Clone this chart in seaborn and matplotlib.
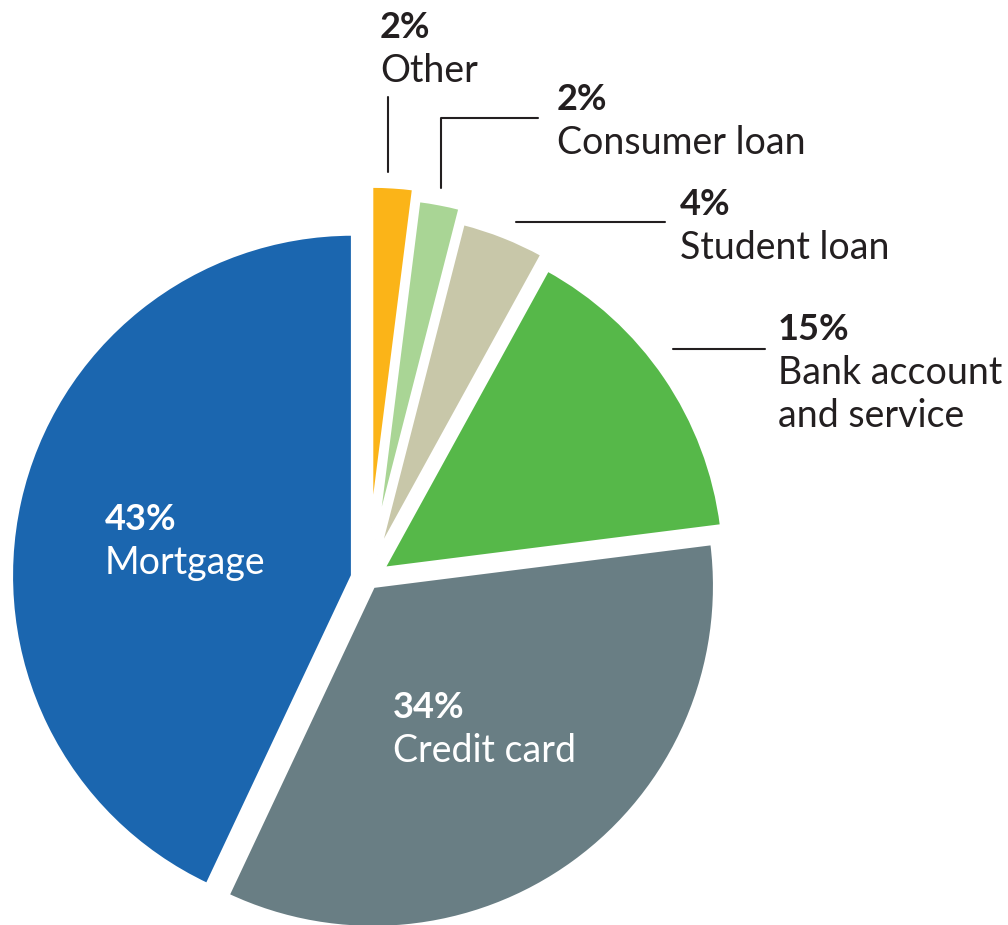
import matplotlib
matplotlib.use("Agg")
import matplotlib.pyplot as plt
import seaborn as sns
from matplotlib.lines import Line2D

sns.set_theme(style="white")
plt.rcParams['font.family'] = ['Lato', 'DejaVu Sans']

# complaint categories, clockwise from 12 o'clock
categories = ["Other", "Consumer loan", "Student loan", "Bank account\nand service",
              "Credit card", "Mortgage"]
shares = [2, 2, 4, 15, 34, 43]
colors = ["#FBB418", "#A9D595", "#C8C7A9", "#56B849", "#697E84", "#1B66AF"]
explode = [0.15, 0.118, 0.078, 0.052, 0.025, 0.045]

W, H = 1008, 925
fig = plt.figure(figsize=(W / 100, H / 100), dpi=100)
ax = fig.add_axes([0, 0, 1, 1])

R = 342.0          # radius in pixels
cx, cy = 368, 579  # pie centre in pixels
ax.pie(shares, colors=sns.color_palette(colors), startangle=90, counterclock=False,
       explode=explode, radius=1, center=(0, 0),
       wedgeprops=dict(edgecolor="white", linewidth=3))
ax.set_xlim(-cx / R, (W - cx) / R)
ax.set_ylim(-(H - cy) / R, cy / R)
ax.set_aspect("equal")
ax.axis("off")


def fx(x, y):
    return x / W, 1 - y / H


# label anchors (left, baseline of percent line) in pixels
label_pos = [(380, 38), (557, 110), (680, 215), (778, 340), (393, 718), (105, 530)]
text_col = ["#231F20"] * 4 + ["white", "white"]

for name, v, (x, y), c in zip(categories, shares, label_pos, text_col):
    fig.text(*fx(x, y), f"{v}%", fontsize=26, fontweight="bold", color=c,
             ha="left", va="baseline")
    for i, line in enumerate(name.split("\n")):
        fig.text(*fx(x, y + 44 + 43 * i), line, fontsize=27, color=c,
                 ha="left", va="baseline")

# leader lines
leaders = [
    [(388, 97), (388, 172)],
    [(441, 188), (441, 118), (538, 118)],
    [(516, 222), (665, 222)],
    [(673, 349), (765, 349)],
]
for pts in leaders:
    xs = [p[0] / W for p in pts]
    ys = [1 - p[1] / H for p in pts]
    fig.add_artist(Line2D(xs, ys, color="#231F20", lw=1.5, transform=fig.transFigure))

fig.savefig("out.png", dpi=100, facecolor="white")
